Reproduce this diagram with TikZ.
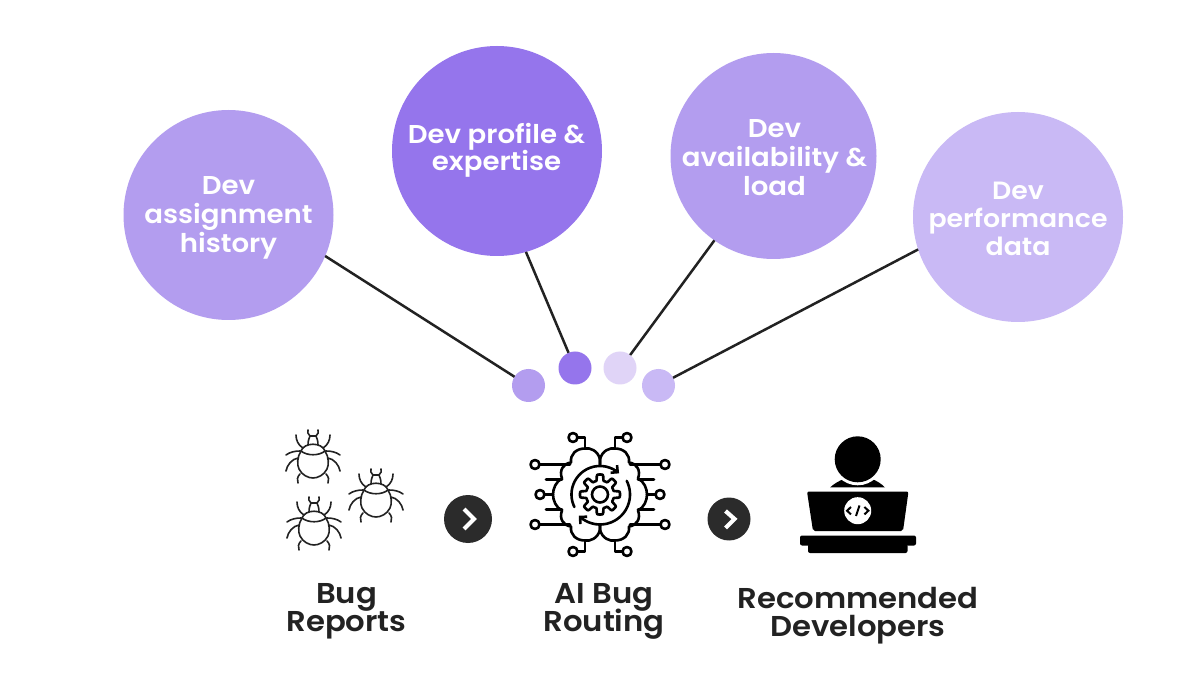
\documentclass[tikz,border=0pt]{standalone}
\usepackage{fontspec}
\setmainfont{Poppins}[BoldFont={Poppins SemiBold},BoldFeatures={FakeStretch=1.07}]
\usetikzlibrary{arrows.meta}
\lineskiplimit=-100pt
\normallineskiplimit=-100pt
\definecolor{ink}{HTML}{222222}
\definecolor{dark}{HTML}{2B2B2B}
\definecolor{pmid}{HTML}{B39DEF}
\definecolor{pstrong}{HTML}{9575EC}
\definecolor{plight}{HTML}{C9B9F5}
\definecolor{ppale}{HTML}{E0D4F7}
\tikzset{
  big/.style={circle,minimum size=#1,inner sep=0pt,outer sep=0pt},
  bigtext/.style={text=white,align=center,inner sep=0pt,anchor=north,font=\fontsize{25.8}{#1}\selectfont\bfseries},
  smalltext/.style={text=white,align=center,inner sep=0pt,anchor=north,font=\fontsize{25}{#1}\selectfont\bfseries},
  dot/.style={circle,minimum size=33,inner sep=0pt,outer sep=0pt},
  link/.style={draw=ink,line width=2.5},
  nextbtn/.style={circle,fill=dark,inner sep=0pt,outer sep=0pt,minimum size=#1},
  chev/.style={draw=white,line width=4.2,fill=none},
  caption/.style={text=ink,align=center,inner sep=0pt,anchor=north,font=\fontsize{28.7}{28}\selectfont\bfseries},
  bugline/.style={draw=ink,line width=1.6,line cap=round,fill=none},
  icon/.style={draw=black,line width=2.6,line cap=round,line join=round,fill=none},
  bugpic/.pic={
    \foreach \s in {1,-1}{
      \draw[bugline,xscale=\s] (-10,-15) .. controls (-15,-18) and (-17,-23) .. (-17,-28);
      \draw[bugline,xscale=\s] (-13,-12) .. controls (-18,-12) and (-23,-11) .. (-27,-8);
      \draw[bugline,xscale=\s] (-15,-5) .. controls (-21,-4) and (-26,2) .. (-27,8);
      \draw[bugline,xscale=\s] (-13,11) .. controls (-16,14) and (-16,17) .. (-15,20);
      \draw[bugline,xscale=\s] (-5,-18) .. controls (-5,-22) and (-4,-25) .. (-3,-27);
      \draw[bugline,xscale=\s] (-3,-27) .. controls (-5,-29) and (-6,-31) .. (-5,-33);
    }
    \draw[bugline] (-3,-27) -- (3,-27);
    \draw[bugline] (-12,-12) .. controls (-9,-21) and (9,-21) .. (12,-12);
    \draw[bugline] (-12,-12) .. controls (-6,-7) and (6,-7) .. (12,-12);
    \draw[bugline] (-12,-12) .. controls (-16,-6) and (-16,2) .. (-14,6) .. controls (-11,12) and (-5,15) .. (0,15) .. controls (5,15) and (11,12) .. (14,6) .. controls (16,2) and (16,-6) .. (12,-12);
  }
}
\begin{document}
\begin{tikzpicture}[x=1pt,y=-1pt]
\useasboundingbox (0,0) rectangle (1200,700);
\fill[white] (0,0) rectangle (1200,700);

\node[big=210,fill=pmid] (c1) at (228.5,215) {};
\node[big=210,fill=pstrong] (c2) at (497,151) {};
\node[big=206,fill=pmid] (c3) at (773.5,156) {};
\node[big=210,fill=plight] (c4) at (1018,217) {};
\node[bigtext=29] (l1) at (228.5,176) {Dev\\assignment\\history};
\node[bigtext=27] (l2) at (496.5,123.5) {Dev profile \&\\expertise};
\node[bigtext=29] (l3) at (774.5,119) {Dev\\availability \&\\load};
\node[smalltext=28] (l4) at (1018,181.5) {Dev\\performance\\data};
\node[dot,fill=pmid] (d1) at (528.5,385.5) {};
\node[dot,fill=pstrong] (d2) at (575,368) {};
\node[dot,fill=ppale] (d3) at (620,368) {};
\node[dot,fill=plight] (d4) at (658.5,385.5) {};
\draw[link] (c1.-23.4) -- (d1.148);
\draw[link] (c2.-74) -- (d2.113);
\draw[link] (c3.-125) -- (d3.52);
\draw[link] (c4.198) -- (d4.28);

\pic at (313,463) {bugpic};
\pic at (376,502) {bugpic};
\pic at (314,530) {bugpic};

\node[nextbtn=48] (n1) at (468,519) {};
\draw[chev] (464,509) -- (474,519) -- (464,529);
\node[nextbtn=43] (n2) at (729,519) {};
\draw[chev] (725.5,511) -- (734.5,519) -- (725.5,528);

\begin{scope}[shift={(600,494.5)}]
  \foreach \s in {1,-1}{
    \begin{scope}[xscale=\s]
      \draw[icon] (0,-30) -- (0,-35) .. controls (-2,-44) and (-10,-47) .. (-15,-46)
        .. controls (-24,-46) and (-30,-40) .. (-29,-32)
        .. controls (-37,-31) and (-41,-24) .. (-38,-16)
        .. controls (-44,-13) and (-47,-6) .. (-47,0)
        .. controls (-47,6) and (-44,13) .. (-38,16)
        .. controls (-41,24) and (-37,31) .. (-29,32)
        .. controls (-30,40) and (-24,46) .. (-15,46)
        .. controls (-10,47) and (-2,44) .. (0,35) -- (0,30);
      \draw[icon] (-15,-46) -- (-15,-57) -- (-22.5,-57);
      \draw[icon] (-15,46) -- (-15,57) -- (-22.5,57);
      \draw[icon] (-27,-57) circle[radius=4.5] (-27,57) circle[radius=4.5];
      \draw[icon] (-30,-30) -- (-60.5,-30) (-65,-30) circle[radius=4.5];
      \draw[icon] (-30,30) -- (-60.5,30) (-65,30) circle[radius=4.5];
      \draw[icon] (-47,0) -- (-55.5,0) (-60,0) circle[radius=4.5];
      \draw[icon] (-38,-15) -- (-54,-15) (-38,15) -- (-54,15);
    \end{scope}
  }
  \draw[icon] plot[domain=0:360,samples=145] ({(17+3*max(-1,min(1,3*cos(8*\x))))*cos(\x)},{(17+3*max(-1,min(1,3*cos(8*\x))))*sin(\x)}) -- cycle;
  \draw[icon] (0,0) circle[radius=8];
  \draw[icon,-{Straight Barb[length=5,width=10]}] plot[domain=154:312,samples=40] ({28.5*cos(\x)},{28.5*sin(\x)});
  \draw[icon,-{Straight Barb[length=5,width=10]}] plot[domain=-27:135,samples=40] ({30*cos(\x)},{30*sin(\x)});
\end{scope}

\fill[black] (830,487.5) .. controls (838,480) and (850,476) .. (858,476) .. controls (866,476) and (878,480) .. (885,487.5) -- cycle;
\fill[white] (857.7,459.3) circle[radius=26];
\fill[black] (857.7,459.3) circle[radius=23];
\fill[black,rounded corners=2] (807,491.5) -- (908.5,491.5) -- (903,531) -- (813,531) -- cycle;
\fill[white] (857.7,510.7) circle[radius=13.5];
\draw[black,line width=2] (851,507) -- (847,510.7) -- (851,514.4) (864.4,507) -- (868.4,510.7) -- (864.4,514.4) (859.5,505.5) -- (856,516);
\fill[black,rounded corners=2] (800,535.5) rectangle (916,545.5);
\fill[black,rounded corners=2] (808,544) rectangle (907.5,553);

\node[caption] (t1) at (346.5,583.5) {Bug\\Reports};
\node[caption] (t2) at (604,583.5) {AI Bug\\Routing};
\node[caption] (t3) at (858,587) {Recommended\\Developers};
\end{tikzpicture}
\end{document}
